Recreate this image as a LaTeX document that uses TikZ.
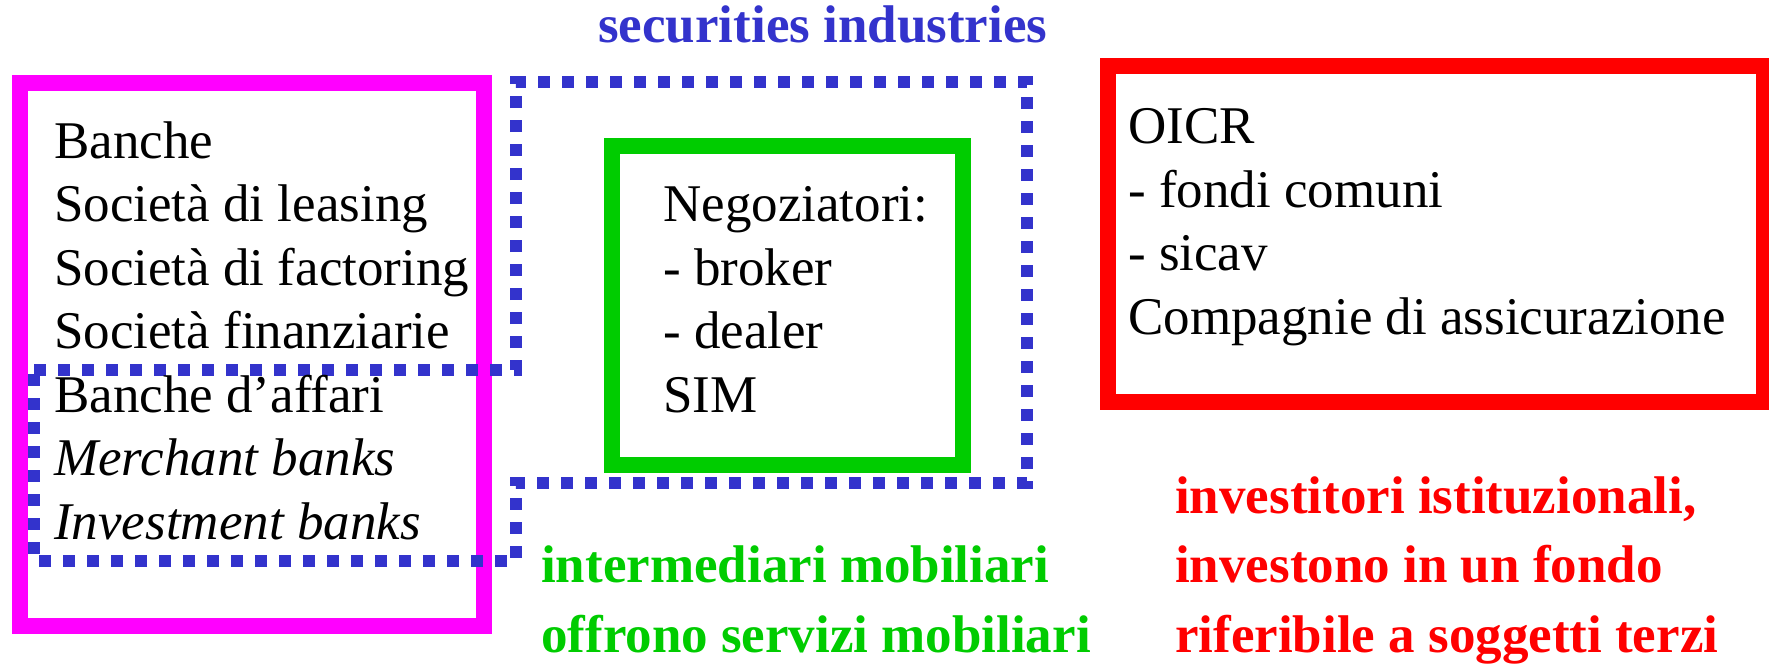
\documentclass[tikz,border=0pt]{standalone}
\usepackage{fontspec}
\setmainfont{Liberation Serif}
\definecolor{sblue}{RGB}{51,51,204}
\definecolor{smag}{RGB}{255,0,255}
\definecolor{sgreen}{RGB}{0,204,0}
\definecolor{sred}{RGB}{255,0,0}
\begin{document}
\begin{tikzpicture}[x=1pt,y=-1pt,
  txt/.style={inner sep=0pt, align=left, anchor=base west, font=\fontsize{53}{63.5}\selectfont},
  lbl/.style={inner sep=0pt, align=left, anchor=base west, font=\fontsize{53}{69.5}\selectfont\bfseries},
  framebox/.style={line width=16pt},
  dotline/.style={sblue, line width=12pt, dash pattern=on 12pt off 12pt}]
\useasboundingbox (0,0) rectangle (1769,669);
% boxes
\draw[framebox, smag] (20,83) rectangle (484,626);
\draw[framebox, sgreen] (612,146) rectangle (963,465);
\draw[framebox, sred] (1108,66) rectangle (1764,402);
% securities industries outline
\coordinate (p1) at (34,370);
\coordinate (p2) at (516,370);
\coordinate (p3) at (516,82);
\coordinate (p4) at (1027,82);
\coordinate (p5) at (1027,483);
\coordinate (p6) at (516,483);
\coordinate (p7) at (516,561);
\coordinate (p8) at (34,561);
\draw[dotline] (p1) -- (p2) -- (p3) -- (p4) -- (p5) -- (p6) -- (p7) -- (p8) -- cycle;
% texts (base anchor = baseline of the last line)
\node[txt] (banche) at (54,539) {Banche\\Società di leasing\\Società di factoring\\Società finanziarie\\Banche d’affari\\\textit{Merchant banks}\\\textit{Investment banks}};
\node[txt] (neg) at (663,412) {Negoziatori:\\- broker\\- dealer\\SIM};
\node[txt] (oicr) at (1128,334) {OICR\\- fondi comuni\\- sicav\\Compagnie di assicurazione};
\node[lbl, text=sblue] (sec) at (598,43) {securities industries};
\node[lbl, text=sgreen] (interm) at (541,652) {intermediari mobiliari\\offrono servizi mobiliari};
\node[lbl, text=sred] (invest) at (1175,652) {investitori istituzionali,\\investono in un fondo\\riferibile a soggetti terzi};
\end{tikzpicture}
\end{document}
